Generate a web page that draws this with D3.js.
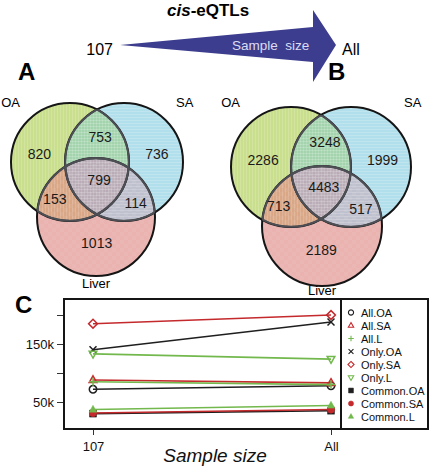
<!DOCTYPE html>
<html>
<head>
<meta charset="utf-8">
<script src="https://cdn.jsdelivr.net/npm/d3@7/dist/d3.min.js"></script>
<style>
  html, body { margin: 0; padding: 0; background: #fff; }
  svg { display: block; font-family: "Liberation Sans", Arial, sans-serif; }
</style>
</head>
<body>
<svg id="chart" width="431" height="467"></svg>
<script>
// ---------------- data ----------------
const setNames = ["OA", "SA", "Liver"];
// region order: OA only, SA only, Liver only, OA&SA, OA&Liver, SA&Liver, all three
const regionKeys = ["OA", "SA", "L", "OA&SA", "OA&L", "SA&L", "OA&SA&L"];
const vennACounts = [820, 736, 1013, 753, 153, 114, 799];
const vennBCounts = [2286, 1999, 2189, 3248, 713, 517, 4483];

const sampleSizes = ["107", "All"];
const seriesNames = ["All.OA", "All.SA", "All.L", "Only.OA", "Only.SA", "Only.L", "Common.OA", "Common.SA", "Common.L"];
const values107 = [72000, 88000, 85000, 140000, 185000, 133000, 30000, 31000, 37000];
const valuesAll = [78000, 83000, 80000, 188000, 200000, 124000, 35000, 37000, 44000];
const yTickValues = [50000, 100000, 150000, 200000];
const yTickLabels = ["50k", "", "150k", ""];

// ---------------- styles ----------------
const svg = d3.select("#chart");
const FONT = "'Liberation Sans', Arial, sans-serif";
const regionColors = {
  "OA": "#cadf8e", "SA": "#b2dfec", "L": "#eab3af",
  "OA&SA": "#a3d4ad", "OA&L": "#d9a686", "SA&L": "#bec0cd", "OA&SA&L": "#b9acb6"
};
const soloKeys = ["OA", "SA", "L"];
const seriesColor = { OA: "#1f1f1f", SA: "#c4292c", L: "#72b84c" };
const seriesShape = ["circle", "triUp", "plus", "cross", "diamond", "triDown", "square", "dot", "triFill"];

// ---------------- top arrow ----------------
const header = svg.append("g");
header.append("text").attr("x", 167).attr("y", 16).attr("font-size", 17).attr("font-weight", "bold")
  .call(t => { t.append("tspan").attr("font-style", "italic").text("cis"); t.append("tspan").text("-eQTLs"); });
const arrowPts = [[120, 45], [313, 27], [313, 10], [336, 45], [313, 82], [313, 62]];
header.append("path").attr("d", d3.line()(arrowPts) + "Z").attr("fill", "#3d3d8f");
header.append("text").attr("x", 113).attr("y", 55).attr("text-anchor", "end").attr("font-size", 16).text(sampleSizes[0]);
header.append("text").attr("x", 342).attr("y", 55).attr("font-size", 16).text(sampleSizes[1]);
header.append("text").attr("x", 232).attr("y", 50).attr("font-size", 13.5).attr("fill", "#dcdcf2")
  .style("white-space", "pre").text("Sample  size");

// panel letters
[["A", 18, 80], ["B", 328, 80], ["C", 15, 313]].forEach(([t, px, py]) =>
  svg.append("text").attr("x", px).attr("y", py).attr("font-size", 24).attr("font-weight", "bold").text(t));

// ---------------- Venn diagrams ----------------
const defs = svg.append("defs");
// region label anchor offsets relative to the centroid of the three circles (units of radius)
const regionAnchor = {
  "OA": [-0.97, -0.45], "SA": [1.02, -0.45], "L": [0.0, 1.06],
  "OA&SA": [0.06, -0.74], "OA&L": [-0.71, 0.32], "SA&L": [0.66, 0.38], "OA&SA&L": [0.04, 0.0]
};

function drawVenn(id, circles, r, counts, topLabelY, bottomLabelGap) {
  const g = svg.append("g");
  circles.forEach((c, i) => {
    defs.append("clipPath").attr("id", `${id}c${i}`).append("circle").attr("cx", c[0]).attr("cy", c[1]).attr("r", r);
  });
  const pv = defs.append("pattern").attr("id", `${id}pv`).attr("width", 3).attr("height", 3).attr("patternUnits", "userSpaceOnUse");
  pv.append("rect").attr("width", 1).attr("height", 3).attr("fill", "#fff").attr("opacity", 0.15);
  const ph = defs.append("pattern").attr("id", `${id}ph`).attr("width", 3).attr("height", 3).attr("patternUnits", "userSpaceOnUse");
  ph.append("rect").attr("width", 3).attr("height", 1).attr("fill", "#fff").attr("opacity", 0.18);
  const pc = defs.append("pattern").attr("id", `${id}pc`).attr("width", 8).attr("height", 8).attr("patternUnits", "userSpaceOnUse");
  pc.append("rect").attr("width", 4).attr("height", 4).attr("fill", "#fff").attr("opacity", 0.06);
  pc.append("rect").attr("x", 4).attr("y", 4).attr("width", 4).attr("height", 4).attr("fill", "#fff").attr("opacity", 0.06);
  const pats = [`${id}pv`, `${id}ph`, `${id}pc`];

  circles.forEach((c, i) => {
    g.append("circle").attr("cx", c[0]).attr("cy", c[1]).attr("r", r).attr("fill", regionColors[soloKeys[i]]);
  });
  [[0, 1, "OA&SA"], [0, 2, "OA&L"], [1, 2, "SA&L"]].forEach(([a, b, k]) => {
    g.append("g").attr("clip-path", `url(#${id}c${a})`)
      .append("circle").attr("cx", circles[b][0]).attr("cy", circles[b][1]).attr("r", r).attr("fill", regionColors[k]);
  });
  g.append("g").attr("clip-path", `url(#${id}c0)`).append("g").attr("clip-path", `url(#${id}c1)`)
    .append("circle").attr("cx", circles[2][0]).attr("cy", circles[2][1]).attr("r", r).attr("fill", regionColors["OA&SA&L"]);
  circles.forEach((c, i) => {
    g.append("circle").attr("cx", c[0]).attr("cy", c[1]).attr("r", r).attr("fill", `url(#${pats[i]})`);
  });
  circles.forEach(c => {
    g.append("circle").attr("cx", c[0]).attr("cy", c[1]).attr("r", r)
      .attr("fill", "none").attr("stroke", "#151515").attr("stroke-width", 2);
  });
  circles.forEach((c, i) => {
    circles.forEach((o, j) => {
      if (i === j) return;
      g.append("g").attr("clip-path", `url(#${id}c${j})`).append("circle")
        .attr("cx", c[0]).attr("cy", c[1]).attr("r", r - 0.2)
        .attr("fill", "none").attr("stroke", "#4d4f55").attr("stroke-width", 2);
    });
  });
  const cx = d3.mean(circles, d => d[0]), cy = d3.mean(circles, d => d[1]);
  regionKeys.forEach((k, i) => {
    const a = regionAnchor[k];
    g.append("text").attr("x", cx + a[0] * r).attr("y", cy + a[1] * r)
      .attr("text-anchor", "middle").attr("dominant-baseline", "central")
      .attr("font-size", 14).attr("fill", "#1a1a1a").text(d3.format("d")(counts[i]));
  });
  g.append("text").attr("x", circles[0][0] - r + 9).attr("y", topLabelY)
    .attr("text-anchor", "end").attr("font-size", 13).text(setNames[0]);
  g.append("text").attr("x", circles[1][0] + r - 7).attr("y", topLabelY)
    .attr("text-anchor", "start").attr("font-size", 13).text(setNames[1]);
  g.append("text").attr("x", circles[2][0]).attr("y", circles[2][1] + r + bottomLabelGap)
    .attr("text-anchor", "middle").attr("font-size", 13).text(setNames[2]);
}

drawVenn("va", [[70, 162], [124, 162], [96, 217]], 59, vennACounts, 107, 12);
drawVenn("vb", [[291, 167], [351, 167], [322, 226]], 60, vennBCounts, 107, 9);

// ---------------- panel C line chart ----------------
const box = { left: 64, top: 299, right: 341, bottom: 429 };
const legendBox = { left: 341, top: 299, right: 428, bottom: 429 };
const x = d3.scalePoint().domain(sampleSizes).range([93, 331]);
const y = d3.scaleLinear().domain([0, 250000]).range([431, 286]);

function markerPath(shape, s) {
  const t = s * 0.87;
  switch (shape) {
    case "circle": case "dot": return d3.symbol(d3.symbolCircle, Math.PI * s * s * 0.85)();
    case "triUp": case "triFill": return `M0,${-s * 1.05}L${t * 1.1},${s * 0.65}L${-t * 1.1},${s * 0.65}Z`;
    case "triDown": return `M0,${s * 1.05}L${t * 1.1},${-s * 0.65}L${-t * 1.1},${-s * 0.65}Z`;
    case "plus": return `M${-s},0H${s}M0,${-s}V${s}`;
    case "cross": return `M${-t},${-t}L${t},${t}M${-t},${t}L${t},${-t}`;
    case "diamond": return `M0,${-s * 1.1}L${s * 1.1},0L0,${s * 1.1}L${-s * 1.1},0Z`;
    case "square": return `M${-t},${-t}H${t}V${t}H${-t}Z`;
  }
}
const filledShapes = new Set(["square", "dot", "triFill"]);
const colorOf = name => seriesColor[name.split(".")[1]];

const pcG = svg.append("g");
const yAxis = d3.axisLeft(y).tickValues(yTickValues).tickSize(7).tickFormat((d, i) => yTickLabels[i]);
pcG.append("g").attr("transform", `translate(${box.left},0)`).call(yAxis)
  .call(g => g.select(".domain").remove())
  .call(g => g.selectAll("line").attr("stroke", "#333").attr("stroke-width", 1))
  .call(g => g.selectAll("text").attr("font-family", FONT).attr("font-size", 13).attr("fill", "#111").attr("x", -10));
const xAxis = d3.axisBottom(x).tickSize(6).tickPadding(7);
pcG.append("g").attr("transform", `translate(0,${box.bottom})`).call(xAxis)
  .call(g => g.select(".domain").remove())
  .call(g => g.selectAll("line").attr("stroke", "#333").attr("stroke-width", 1))
  .call(g => g.selectAll("text").attr("font-family", FONT).attr("font-size", 13).attr("fill", "#111"));

const series = seriesNames.map((n, i) => ({ name: n, shape: seriesShape[i], vals: [values107[i], valuesAll[i]] }));
const line = d3.line().x((d, i) => x(sampleSizes[i])).y(d => y(d));
series.forEach(s => {
  const col = colorOf(s.name);
  pcG.append("path").attr("d", line(s.vals)).attr("fill", "none").attr("stroke", col).attr("stroke-width", 1.6);
  s.vals.forEach((v, i) => {
    pcG.append("path").attr("d", markerPath(s.shape, 4))
      .attr("transform", `translate(${x(sampleSizes[i])},${y(v)})`)
      .attr("fill", filledShapes.has(s.shape) ? col : "none")
      .attr("stroke", col).attr("stroke-width", filledShapes.has(s.shape) ? 0.5 : 1.5);
  });
});

pcG.append("rect").attr("x", box.left).attr("y", box.top).attr("width", box.right - box.left).attr("height", box.bottom - box.top)
  .attr("fill", "none").attr("stroke", "#151515").attr("stroke-width", 2);
pcG.append("rect").attr("x", legendBox.left).attr("y", legendBox.top).attr("width", legendBox.right - legendBox.left).attr("height", legendBox.bottom - legendBox.top)
  .attr("fill", "none").attr("stroke", "#151515").attr("stroke-width", 2);

series.forEach((s, i) => {
  const col = colorOf(s.name);
  const yy = 312.5 + i * 13;
  pcG.append("path").attr("d", markerPath(s.shape, 2.8)).attr("transform", `translate(351,${yy})`)
    .attr("fill", filledShapes.has(s.shape) ? col : "none")
    .attr("stroke", col).attr("stroke-width", filledShapes.has(s.shape) ? 0.5 : 1.1);
  pcG.append("text").attr("x", 361).attr("y", yy).attr("dominant-baseline", "central")
    .attr("font-size", 11).attr("fill", "#111").text(s.name);
});

pcG.append("text").attr("x", 215).attr("y", 462).attr("text-anchor", "middle")
  .attr("font-size", 19).attr("font-style", "italic").attr("fill", "#111").text("Sample size");
</script>
</body>
</html>
